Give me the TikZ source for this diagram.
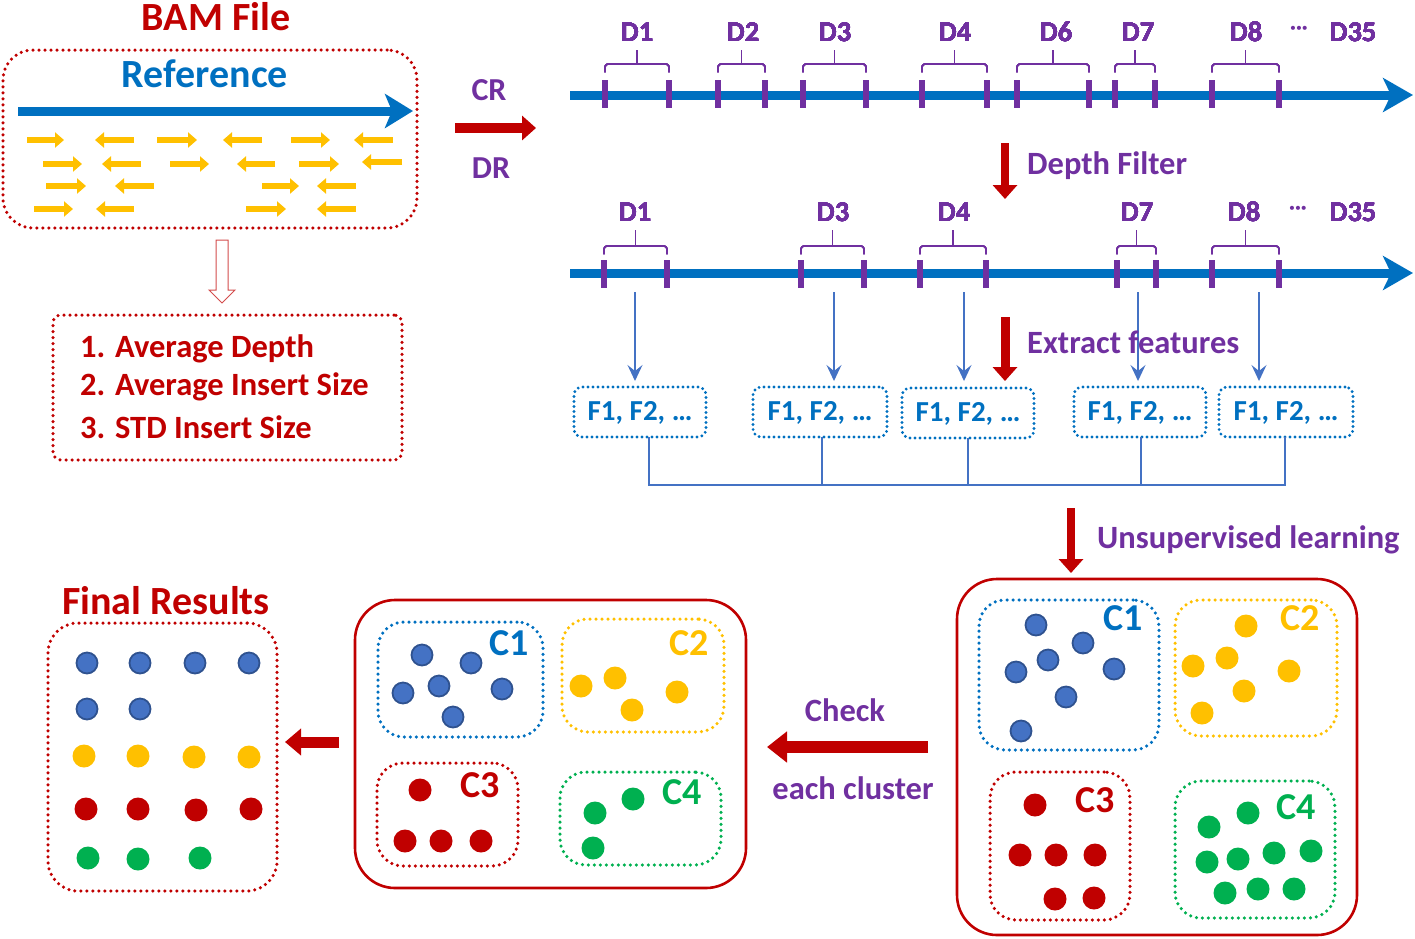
\documentclass[tikz,border=0pt]{standalone}
\usepackage{fontspec}
\setmainfont{Carlito}
\usetikzlibrary{arrows.meta,fit}
\definecolor{dred}{HTML}{C00000}
\definecolor{rblue}{HTML}{0070C0}
\definecolor{purp}{HTML}{7030A0}
\definecolor{yel}{HTML}{FFC000}
\definecolor{dblue}{HTML}{4472C4}
\definecolor{dblueline}{HTML}{2F528F}
\definecolor{grn}{HTML}{00B050}
\newcommand\fs[1]{\fontsize{#1}{#1}\selectfont\bfseries}
\newcommand\dB[2]{\fill[dblue, draw=dblueline, line width=1.8pt] (#1,#2) circle (10.5pt);}
\newcommand\dY[2]{\fill[yel] (#1,#2) circle (11.5pt);}
\newcommand\dR[2]{\fill[dred] (#1,#2) circle (11.5pt);}
\newcommand\dG[2]{\fill[grn] (#1,#2) circle (11.5pt);}
\newcommand\tickmark[2]{\fill[purp] (#1-3.2,#2-14) rectangle (#1+3.2,#2+14);}
\newcommand\brc[5]{% x1 x2 ystem yh ybot
  \draw[purp, line width=1.3pt, rounded corners=3pt] (#1,#5) -- (#1,#4) -- (#2,#4) -- (#2,#5);
  \draw[purp, line width=1.3pt] ({(#1+#2)/2},#4) -- ({(#1+#2)/2},#3);}
\begin{document}
\begin{tikzpicture}[x=1pt,y=-1pt,
  dotbox/.style={draw=#1, line width=3.5pt, dash pattern=on 0pt off 6pt, line cap=round, rounded corners=26pt, inner sep=0pt},
  fbox/.style={draw=rblue, line width=3.2pt, dash pattern=on 0pt off 5pt, line cap=round, rounded corners=8pt, inner sep=0pt},
  solidbox/.style={draw=dred, line width=2.6pt, rounded corners=40pt, inner sep=0pt},
  lbl/.style={inner sep=0pt, font=\fs{#1}},
  redarrow/.style={draw=dred, line width=#1, -{Triangle[length=14pt,width=24pt]}},
  axisarrow/.style={draw=rblue, line width=9pt, -{Stealth[length=30pt,width=34pt,inset=8pt]}},
  thinarrow/.style={draw=dblue, line width=1.3pt, -{Stealth[length=16pt,width=15pt,inset=6pt]}},
  yarr/.style={draw=yel, line width=6pt, -{Triangle[length=9pt,width=15pt]}},
  conn/.style={draw=dblue, line width=1.2pt}]
\useasboundingbox (0,0) rectangle (1415,938);

% ---------- BAM file ----------
\node[lbl=40, text=dred] (bamt) at (216,17) {BAM File};
\node[dotbox=dred, rounded corners=30pt, fit={(3,50) (417,228)}] (bam) {};
\node[lbl=40, text=rblue] (reft) at (205,74) {Reference};
\coordinate (refs) at (18,111);
\coordinate (refe) at (413,111);
\draw[axisarrow, -{Stealth[length=28pt,width=34pt,inset=7pt]}] (refs) -- (refe);
% reads
\foreach \a/\b/\y in {27/64/140, 157/197/140, 291/330/140, 43/82/164, 170/209/164, 299/339/164, 46/86/186, 262/299/186, 34/73/209, 246/286/209}
  \draw[yarr] (\a,\y) -- (\b,\y);
\foreach \a/\b/\y in {95/134/140, 223/262/140, 354/393/140, 102/141/164, 237/275/164, 362/402/162, 115/154/186, 317/356/186, 96/134/209, 317/356/209}
  \draw[yarr] (\b,\y) -- (\a,\y);

% CR / DR
\node[lbl=32, text=purp] (cr) at (489,90) {CR};
\node[lbl=32, text=purp] (dr) at (491,168) {DR};
\coordinate (crs) at (455,128);
\coordinate (cre) at (536,128);
\draw[redarrow=10pt] (crs) -- (cre);

% hollow arrow
\draw[draw=dred!70!white, fill=white, line width=1pt] (216,240) -- (228,240) -- (228,290) -- (235,290) -- (222,303) -- (209,290) -- (216,290) -- cycle;
\node[dotbox=dred, rounded corners=8pt, fit={(53,315) (402,460)}] (feat) {};
\node[lbl=32.5, text=dred, anchor=west] (f1) at (80,349) {1. Average Depth};
\node[lbl=32.5, text=dred, anchor=west] (f2) at (80,387) {2. Average Insert Size};
\node[lbl=32.5, text=dred, anchor=west] (f3) at (80,427) {3. STD Insert Size};

% ---------- axis 1 ----------
\coordinate (a1s) at (570,95);
\coordinate (a1e) at (1413,95);
\draw[axisarrow] (a1s) -- (a1e);
\foreach \x in {605,669,718,765,803,866,922,987,1017,1089,1115,1155,1212,1279} \tickmark{\x}{94}
\brc{605}{669}{50}{64}{72}
\brc{718}{765}{50}{64}{72}
\brc{803}{866}{50}{64}{72}
\brc{922}{987}{50}{64}{72}
\brc{1017}{1089}{50}{64}{72}
\brc{1115}{1155}{50}{64}{72}
\brc{1212}{1279}{50}{64}{72}
\foreach \t/\x in {D1/637, D2/743, D3/835, D4/955, D6/1056, D7/1138, D8/1246, D35/1353}
  \node[lbl=28.5, text=purp] (top\t) at (\x,32) {\t};
\node[lbl=22, text=purp] (dots1) at (1299,30) {···};

% depth filter
\coordinate (dfs) at (1005,143);
\coordinate (dfe) at (1005,199);
\draw[redarrow=8pt] (dfs) -- (dfe);
\node[lbl=32.5, text=purp, anchor=west] (dft) at (1027,166) {Depth Filter};

% ---------- axis 2 ----------
\coordinate (a2s) at (570,273);
\coordinate (a2e) at (1413,273);
\draw[axisarrow] (a2s) -- (a2e);
\foreach \x in {604,667,801,864,920,986,1117,1156,1212,1279} \tickmark{\x}{274}
\brc{604}{667}{230}{246}{254}
\brc{801}{864}{230}{246}{254}
\brc{920}{986}{230}{246}{254}
\brc{1117}{1156}{230}{246}{254}
\brc{1212}{1279}{230}{246}{254}
\foreach \t/\x in {D1/635, D3/833, D4/954, D7/1137, D8/1244, D35/1353}
  \node[lbl=28.5, text=purp] (bot\t) at (\x,212) {\t};
\node[lbl=22, text=purp] (dots2) at (1298,210) {···};

% feature boxes
\node[fbox, fit={(574,387) (706,437)}] (F1) {};
\node[fbox, fit={(753,387) (887,437)}] (F2) {};
\node[fbox, fit={(902,388) (1034,438)}] (F3) {};
\node[fbox, fit={(1074,387) (1206,437)}] (F4) {};
\node[fbox, fit={(1219,387) (1353,437)}] (F5) {};
\foreach \n in {F1,F2,F3,F4,F5}
  \node[lbl=29, text=rblue] at ([yshift=-1pt]\n.center) {F1, F2, …};
\foreach \x/\n in {635/F1, 834/F2, 964/F3, 1138/F4, 1259/F5}{
  \coordinate (s\n) at (\x,292);
  \draw[thinarrow] (s\n) -- (\x,381);}
\coordinate (efs) at (1005,317);
\coordinate (efe) at (1005,381);
\draw[redarrow=9pt] (efs) -- (efe);
\node[lbl=32.5, text=purp, anchor=west] (eft) at (1027,342) {Extract features};
% connectors
\coordinate (jl) at (649,485);
\coordinate (jr) at (1285,485);
\draw[conn] (649,437) -- (jl) -- (jr) -- (1285,437);
\draw[conn] (822,437) -- (822,485);
\draw[conn] (968,438) -- (968,485);
\draw[conn] (1141,437) -- (1141,485);

% unsupervised
\coordinate (uls) at (1071,508);
\coordinate (ule) at (1071,573);
\draw[redarrow=8pt] (uls) -- (ule);
\node[lbl=32.5, text=purp, anchor=west] (ult) at (1097,540) {Unsupervised learning};

% ---------- right cluster panel ----------
\node[solidbox, fit={(957,579) (1357,935)}] (R) {};
\node[dotbox=rblue, fit={(979,600) (1159,750)}] (RC1) {};
\node[dotbox=yel, fit={(1175,600) (1337,736)}] (RC2) {};
\node[dotbox=dred, fit={(990,772) (1130,920)}] (RC3) {};
\node[dotbox=grn, fit={(1175,781) (1335,918)}] (RC4) {};
\node[lbl=38, text=rblue] at (1123,618) {C1};
\node[lbl=38, text=yel] at (1300,618) {C2};
\node[lbl=38, text=dred] at (1095,800) {C3};
\node[lbl=38, text=grn] at (1296,807) {C4};
\dB{1036}{625}\dB{1083}{643}\dB{1048}{660}\dB{1016}{672}\dB{1114}{669}\dB{1066}{697}\dB{1021}{731}
\dY{1246}{626}\dY{1227}{658}\dY{1193}{666}\dY{1289}{671}\dY{1244}{691}\dY{1202}{713}
\dR{1035}{805}\dR{1020}{855}\dR{1056}{855}\dR{1095}{855}\dR{1055}{899}\dR{1094}{898}
\dG{1248}{813}\dG{1209}{827}\dG{1207}{862}\dG{1238}{859}\dG{1274}{853}\dG{1311}{851}\dG{1225}{893}\dG{1258}{889}\dG{1294}{889}

% check arrow
\coordinate (cks) at (928,747);
\coordinate (cke) at (767,747);
\draw[redarrow=12pt, -{Triangle[length=20pt,width=30pt]}] (cks) -- (cke);
\node[lbl=32.5, text=purp] (ckt) at (845,710) {Check};
\node[lbl=32.5, text=purp] (ect) at (853,788) {each cluster};

% ---------- middle cluster panel ----------
\node[solidbox, fit={(355,600) (746,888)}] (M) {};
\node[dotbox=rblue, fit={(378,622) (543,737)}] (MC1) {};
\node[dotbox=yel, fit={(562,619) (724,732)}] (MC2) {};
\node[dotbox=dred, fit={(377,763) (518,866)}] (MC3) {};
\node[dotbox=grn, fit={(560,772) (721,865)}] (MC4) {};
\node[lbl=38, text=rblue] at (509,643) {C1};
\node[lbl=38, text=yel] at (689,643) {C2};
\node[lbl=38, text=dred] at (480,785) {C3};
\node[lbl=38, text=grn] at (682,792) {C4};
\dB{422}{655}\dB{471}{663}\dB{439}{686}\dB{403}{693}\dB{502}{689}\dB{453}{717}
\dY{615}{678}\dY{581}{686}\dY{677}{692}\dY{632}{710}
\dR{420}{790}\dR{405}{841}\dR{441}{841}\dR{481}{841}
\dG{633}{799}\dG{595}{813}\dG{593}{848}

% final arrow
\coordinate (frs) at (339,742);
\coordinate (fre) at (285,742);
\draw[redarrow=11pt, -{Triangle[length=16pt,width=26pt]}] (frs) -- (fre);

% ---------- final results ----------
\node[lbl=40, text=dred] (frt) at (166,601) {Final Results};
\node[dotbox=dred, rounded corners=30pt, fit={(48,623) (277,891)}] (FR) {};
\dB{87}{663}\dB{140}{663}\dB{195}{663}\dB{249}{663}
\dB{87}{709}\dB{140}{709}
\dY{84}{756}\dY{138}{756}\dY{194}{757}\dY{249}{757}
\dR{86}{809}\dR{138}{809}\dR{196}{810}\dR{251}{809}
\dG{88}{858}\dG{138}{859}\dG{200}{858}
\end{tikzpicture}
\end{document}
